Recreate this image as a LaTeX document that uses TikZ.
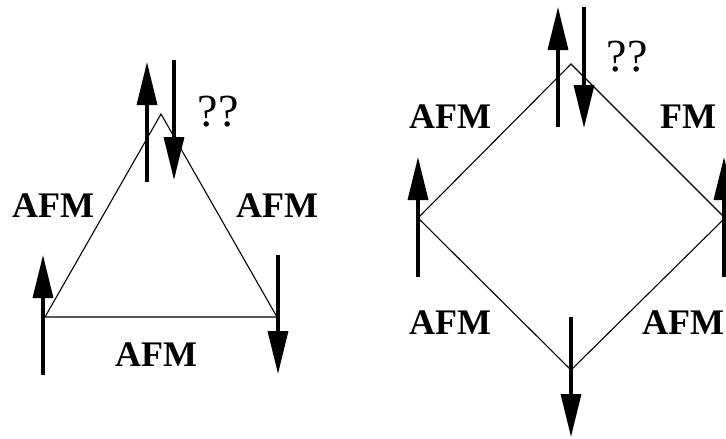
\documentclass[tikz,border=0pt]{standalone}
\usepackage{fontspec}
\setmainfont{Liberation Serif}
\usetikzlibrary{arrows.meta}
\tikzset{
  spin/.style={line width=3.4pt,-{Triangle[length=43pt,width=20pt]}},
  edge/.style={line width=1.1pt,line join=miter},
  lbl/.style={inner sep=0pt,font=\fontsize{36}{42}\selectfont\bfseries},
  qq/.style={inner sep=0pt,font=\fontsize{46}{52}\selectfont}
}
\begin{document}
\begin{tikzpicture}[x=1pt,y=-1pt]
\useasboundingbox (0,0) rectangle (726,439);
% triangle
\coordinate (tA) at (161,114);
\coordinate (tB) at (45,317);
\coordinate (tC) at (277,317);
\draw[edge] (tA) -- (tB) -- (tC) -- cycle;
\coordinate (s1a) at (43,375);  \coordinate (s1b) at (43,255);
\coordinate (s2a) at (147,182); \coordinate (s2b) at (147,62);
\coordinate (s3a) at (174,60);  \coordinate (s3b) at (174,180);
\coordinate (s4a) at (278,255); \coordinate (s4b) at (278,374);
\draw[spin] (s1a) -- (s1b);
\draw[spin] (s2a) -- (s2b);
\draw[spin] (s3a) -- (s3b);
\draw[spin] (s4a) -- (s4b);
\node[qq] (q1) at (218,112) {??};
\node[lbl] (l1) at (53,206) {AFM};
\node[lbl] (l2) at (277,206) {AFM};
\node[lbl] (l3) at (156,355) {AFM};
% diamond
\coordinate (dT) at (571,64);
\coordinate (dL) at (418,218);
\coordinate (dB) at (571,370);
\coordinate (dR) at (725,218);
\draw[edge] (dT) -- (dL) -- (dB) -- (dR) -- cycle;
\coordinate (u1a) at (558,127); \coordinate (u1b) at (558,7);
\coordinate (u2a) at (584,7);   \coordinate (u2b) at (584,128);
\coordinate (u3a) at (418,277); \coordinate (u3b) at (418,157);
\coordinate (u4a) at (724,277); \coordinate (u4b) at (724,157);
\coordinate (u5a) at (571,317); \coordinate (u5b) at (571,437);
\draw[spin] (u1a) -- (u1b);
\draw[spin] (u2a) -- (u2b);
\draw[spin] (u3a) -- (u3b);
\draw[spin] (u4a) -- (u4b);
\draw[spin] (u5a) -- (u5b);
\node[qq] (q2) at (627,57) {??};
\node[lbl] (m1) at (450,117) {AFM};
\node[lbl] (m2) at (688,117) {FM};
\node[lbl] (m3) at (450,323) {AFM};
\node[lbl] (m4) at (683,323) {AFM};
\end{tikzpicture}
\end{document}
